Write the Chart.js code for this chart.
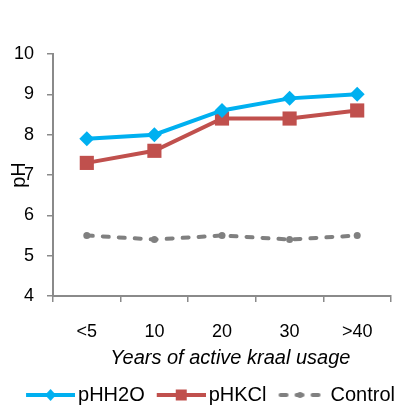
<!DOCTYPE html>
<html>
<head>
<meta charset="utf-8">
<script src="https://cdn.jsdelivr.net/npm/chart.js@4/dist/chart.umd.min.js"></script>
<style>
  html, body { margin: 0; padding: 0; background: #fff; }
  #wrap { width: 401px; height: 410px; }
</style>
</head>
<body>
<div id="wrap"><canvas id="c"></canvas></div>
<script>
// данные с картинки
const categories = ['<5', '10', '20', '30', '>40'];
const phH2O = [7.9, 8.0, 8.6, 8.9, 9.0];
const phKCl = [7.3, 7.6, 8.4, 8.4, 8.6];
const control = [5.5, 5.4, 5.5, 5.4, 5.5];
const yTicks = [4, 5, 6, 7, 8, 9, 10];

const FONT = "'Liberation Sans', Arial, sans-serif";
const BLUE = '#00B0F0';
const RED = '#C0504D';
const GREY = '#808080';
const AXIS = '#8a8a8a';

// иконка легенды: линия с маркером посередине (как в Excel)
function legendIcon(color, dash, marker) {
    const c = document.createElement('canvas');
    c.width = 58;
    c.height = 20;
    const ctx = c.getContext('2d');
    const x0 = 9, x1 = 58, y = 10, mid = (x0 + x1) / 2;
    ctx.strokeStyle = color;
    ctx.fillStyle = color;
    ctx.lineWidth = 4;
    if (dash) {
        ctx.setLineDash(dash);
        ctx.lineCap = 'round';
    }
    ctx.beginPath();
    ctx.moveTo(dash ? x0 + 2 : x0, y);
    ctx.lineTo(dash ? x1 - 7 : x1, y);
    ctx.stroke();
    ctx.setLineDash([]);
    ctx.beginPath();
    if (marker === 'diamond') {
        ctx.moveTo(mid, y - 6); ctx.lineTo(mid + 5.5, y); ctx.lineTo(mid, y + 6); ctx.lineTo(mid - 5.5, y);
    } else if (marker === 'square') {
        ctx.rect(mid - 5.5, y - 5.5, 11, 11);
    } else {
        ctx.arc(mid - 3, y, 3, 0, Math.PI * 2);
    }
    ctx.closePath();
    ctx.fill();
    return c;
}

const icons = [
    legendIcon(BLUE, null, 'diamond'),
    legendIcon(RED, null, 'square'),
    legendIcon(GREY, [6, 10], 'circle'),
];

// легенда чуть правее и ниже, как на оригинале
const legendShift = {
    id: 'legendShift',
    afterLayout(chart) {
        const l = chart.legend;
        l.left += 9; l.right += 9;
        l.top += 5; l.bottom += 5;
    }
};

new Chart(document.getElementById('c'), {
    type: 'line',
    data: {
        labels: categories,
        datasets: [
            {
                label: 'pHH2O',
                data: phH2O,
                borderColor: BLUE,
                backgroundColor: BLUE,
                borderWidth: 4,
                pointStyle: 'rectRot',
                pointRadius: 7.5,
                pointBorderWidth: 0,
                tension: 0,
            },
            {
                label: 'pHKCl',
                data: phKCl,
                borderColor: RED,
                backgroundColor: RED,
                borderWidth: 4,
                pointStyle: 'rect',
                pointRadius: 10,
                pointBorderWidth: 0,
                tension: 0,
            },
            {
                label: 'Control',
                data: control,
                borderColor: GREY,
                backgroundColor: GREY,
                borderWidth: 4,
                borderDash: [6, 10],
                borderCapStyle: 'round',
                pointStyle: 'circle',
                pointRadius: 3.5,
                pointBorderWidth: 0,
                tension: 0,
            },
        ],
    },
    options: {
        responsive: true,
        maintainAspectRatio: false,
        animation: false,
        devicePixelRatio: 1,
        layout: { padding: { top: 54, right: 0, bottom: 0, left: 0 } },
        plugins: {
            tooltip: { enabled: false },
            legend: {
                position: 'bottom',
                align: 'center',
                labels: {
                    usePointStyle: true,
                    pointStyleWidth: 44,
                    padding: 10,
                    color: '#000',
                    font: { family: FONT, size: 20 },
                    generateLabels: chart => chart.data.datasets.map((ds, i) => ({
                        text: ds.label,
                        pointStyle: icons[i],
                        fillStyle: ds.borderColor,
                        strokeStyle: ds.borderColor,
                        lineWidth: 0,
                        hidden: false,
                        datasetIndex: i,
                    })),
                },
            },
        },
        scales: {
            x: {
                offset: true,
                grid: {
                    offset: true,
                    drawOnChartArea: false,
                    drawTicks: true,
                    tickLength: 6,
                    color: AXIS,
                    lineWidth: 1.5,
                },
                border: { display: true, color: AXIS, width: 2 },
                ticks: {
                    color: '#000',
                    padding: 19,
                    maxRotation: 0,
                    font: { family: FONT, size: 18 },
                },
                title: {
                    display: true,
                    // неразрывные пробелы сдвигают подпись вправо, как в оригинале
                    text: '\u00a0\u00a0\u00a0Years of active kraal usage',
                    color: '#000',
                    padding: { top: 0, bottom: 0 },
                    font: { family: FONT, size: 20, style: 'italic' },
                },
                afterFit: scale => { scale.height = 74; },
            },
            y: {
                min: 4,
                max: 10,
                afterBuildTicks: scale => { scale.ticks = yTicks.map(v => ({ value: v })); },
                grid: {
                    drawOnChartArea: false,
                    drawTicks: true,
                    tickLength: 6,
                    color: AXIS,
                    lineWidth: 1.5,
                },
                border: { display: true, color: AXIS, width: 2 },
                ticks: {
                    color: '#000',
                    padding: 13,
                    font: { family: FONT, size: 18 },
                },
                title: {
                    display: true,
                    text: 'pH',
                    color: '#000',
                    padding: { top: 7, bottom: 0 },
                    font: { family: FONT, size: 20 },
                },
                afterFit: scale => { scale.width = 53; },
            },
        },
    },
    plugins: [legendShift],
});
</script>
</body>
</html>
